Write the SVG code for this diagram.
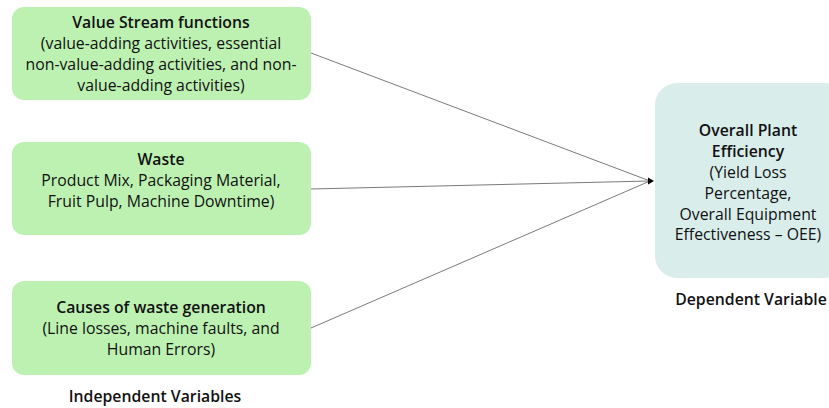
<svg xmlns="http://www.w3.org/2000/svg" width="829" height="408" viewBox="0 0 829 408">
<defs>
<style>
.g{fill:#bdf1b2;}
.t{fill:#d9edeb;}
text{font-family:"Open Sans","Noto Sans",sans-serif;font-size:15.8px;fill:#111;text-anchor:middle;}
.b{font-weight:600;}
.c{stroke:#7a7a7a;stroke-width:1;fill:none;}
</style>
</defs>
<rect width="829" height="408" fill="#fff"/>
<g id="connectors">
<line class="c" x1="311" y1="53" x2="650" y2="181"/>
<line class="c" x1="311" y1="189" x2="650" y2="181"/>
<line class="c" x1="311" y1="328" x2="650" y2="181"/>
<path d="M648,177.5 L654,181 L648,184.5 Z" fill="#000"/>
</g>
<g id="node1">
<rect class="g" x="12" y="7" width="299" height="93" rx="12"/>
<text x="161" y="28" class="b">Value Stream functions</text>
<text x="161" y="49">(value-adding activities, essential</text>
<text x="161" y="70">non-value-adding activities, and non-</text>
<text x="161" y="91">value-adding activities)</text>
</g>
<g id="node2">
<rect class="g" x="12" y="142" width="299" height="93" rx="12"/>
<text x="161" y="165" class="b">Waste</text>
<text x="161" y="186">Product Mix, Packaging Material,</text>
<text x="161" y="207">Fruit Pulp, Machine Downtime)</text>
</g>
<g id="node3">
<rect class="g" x="12" y="281" width="299" height="94" rx="12"/>
<text x="161" y="313" class="b">Causes of waste generation</text>
<text x="161" y="334">(Line losses, machine faults, and</text>
<text x="161" y="355">Human Errors)</text>
</g>
<g id="label-independent">
<text x="155" y="402" class="b">Independent Variables</text>
</g>
<g id="node4">
<rect class="t" x="655" y="83" width="190" height="195" rx="22"/>
<text x="748" y="136" class="b">Overall Plant</text>
<text x="748" y="157" class="b">Efficiency</text>
<text x="748" y="178">(Yield Loss</text>
<text x="748" y="199">Percentage,</text>
<text x="748" y="220">Overall Equipment</text>
<text x="748" y="240">Effectiveness – OEE)</text>
</g>
<g id="label-dependent">
<text x="751" y="305" class="b">Dependent Variable</text>
</g>
</svg>
